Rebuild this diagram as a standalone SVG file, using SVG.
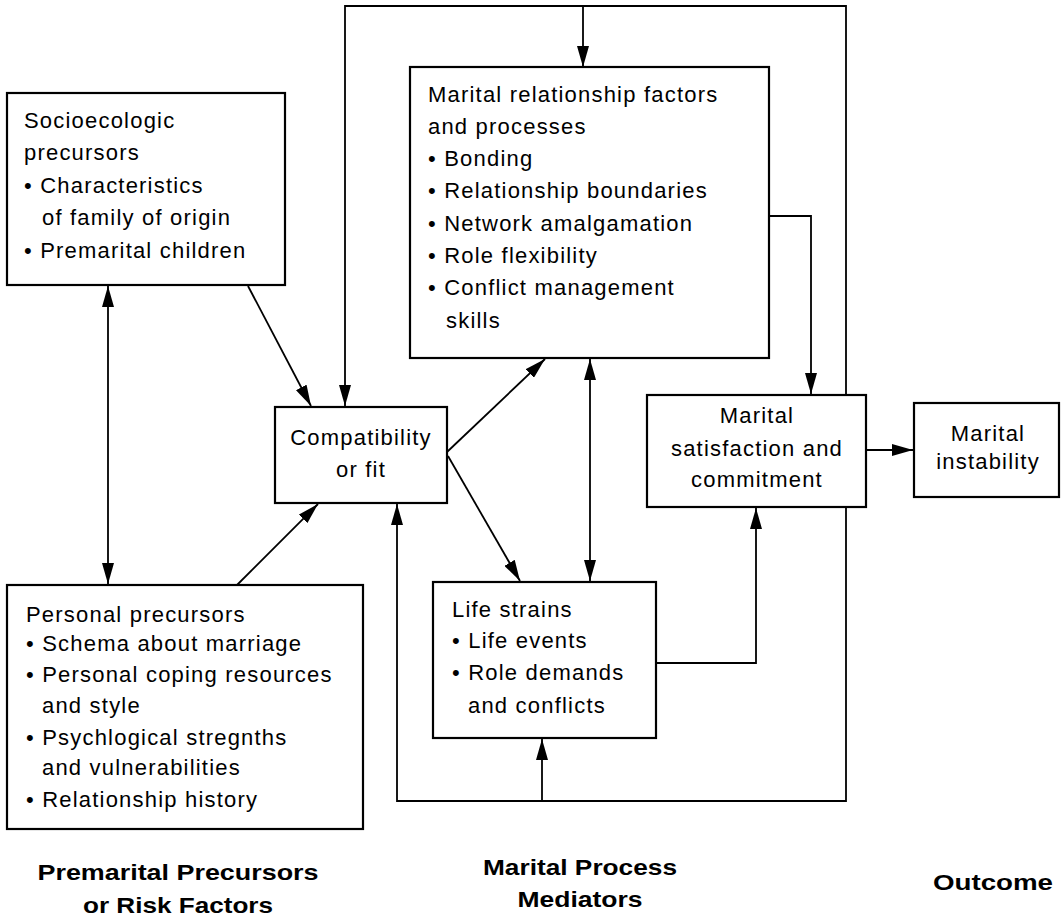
<svg xmlns="http://www.w3.org/2000/svg" width="1063" height="916" viewBox="0 0 1063 916">
<style>
.box{fill:#fff;stroke:#000;stroke-width:2.2}
.t{font-family:"Liberation Sans",Arial,sans-serif;font-size:22px;letter-spacing:1.2px;fill:#000}
.c{text-anchor:middle}
.b{font-family:"Liberation Sans",Arial,sans-serif;font-size:22px;font-weight:bold;fill:#000;text-anchor:middle}
.ln{fill:none;stroke:#000;stroke-width:1.8}
.ar{marker-end:url(#ah)}
.bi{marker-start:url(#ah);marker-end:url(#ah)}
</style>
<defs>
<marker id="ah" viewBox="0 0 21 12" refX="21" refY="6" markerWidth="21" markerHeight="12" markerUnits="userSpaceOnUse" orient="auto-start-reverse">
<path d="M0,0 L21,6 L0,12 z" fill="#000"/>
</marker>
</defs>
<rect width="1063" height="916" fill="#fff"/>
<g id="connectors">
<polyline class="ln" points="846,395 846,6 345,6 345,406" marker-end="url(#ah)"/>
<line class="ln ar" x1="583" y1="6" x2="583" y2="67"/>
<line class="ln ar" x1="248" y1="286" x2="311" y2="406"/>
<line class="ln bi" x1="108" y1="286" x2="108" y2="584"/>
<line class="ln ar" x1="237" y1="585" x2="318" y2="504"/>
<line class="ln ar" x1="447" y1="452" x2="545" y2="359"/>
<line class="ln ar" x1="448" y1="456" x2="520" y2="581"/>
<line class="ln bi" x1="590" y1="359" x2="590" y2="581"/>
<polyline class="ln ar" points="769,216 811,216 811,394"/>
<polyline class="ln ar" points="656,663 756,663 756,508"/>
<line class="ln ar" x1="866" y1="450" x2="913" y2="450"/>
<polyline class="ln ar" points="846,507 846,801 397,801 397,504"/>
<line class="ln ar" x1="542" y1="801" x2="542" y2="739"/>
</g>
<g id="socioecologic">
<rect class="box" x="7" y="93" width="278" height="192"/>
<text class="t" x="24" y="128">Socioecologic</text>
<text class="t" x="24" y="160">precursors</text>
<text class="t" x="24" y="193">• Characteristics</text>
<text class="t" x="42" y="225">of family of origin</text>
<text class="t" x="24" y="258">• Premarital children</text>
</g>
<g id="personal">
<rect class="box" x="7" y="585" width="356" height="244"/>
<text class="t" x="26" y="622">Personal precursors</text>
<text class="t" x="26" y="651">• Schema about marriage</text>
<text class="t" x="26" y="682">• Personal coping resources</text>
<text class="t" x="42" y="713">and style</text>
<text class="t" x="26" y="745">• Psychlogical stregnths</text>
<text class="t" x="42" y="775">and vulnerabilities</text>
<text class="t" x="26" y="807">• Relationship history</text>
</g>
<g id="compatibility">
<rect class="box" x="275" y="407" width="172" height="96"/>
<text class="t c" x="361" y="445">Compatibility</text>
<text class="t c" x="361" y="477">or fit</text>
</g>
<g id="marital-relationship">
<rect class="box" x="410" y="67" width="359" height="291"/>
<text class="t" x="428" y="102">Marital relationship factors</text>
<text class="t" x="428" y="134">and processes</text>
<text class="t" x="428" y="166">• Bonding</text>
<text class="t" x="428" y="198">• Relationship boundaries</text>
<text class="t" x="428" y="231">• Network amalgamation</text>
<text class="t" x="428" y="263">• Role flexibility</text>
<text class="t" x="428" y="295">• Conflict management</text>
<text class="t" x="446" y="328">skills</text>
</g>
<g id="life-strains">
<rect class="box" x="433" y="582" width="223" height="156"/>
<text class="t" x="452" y="617">Life strains</text>
<text class="t" x="452" y="648">• Life events</text>
<text class="t" x="452" y="680">• Role demands</text>
<text class="t" x="468" y="713">and conflicts</text>
</g>
<g id="satisfaction">
<rect class="box" x="647" y="395" width="219" height="112"/>
<text class="t c" x="757" y="423">Marital</text>
<text class="t c" x="757" y="456">satisfaction and</text>
<text class="t c" x="757" y="487">commitment</text>
</g>
<g id="instability">
<rect class="box" x="914" y="403" width="145" height="94"/>
<text class="t c" x="988" y="441">Marital</text>
<text class="t c" x="988" y="469">instability</text>
</g>
<g id="labels">
<text class="b" x="178" y="880" textLength="281" lengthAdjust="spacingAndGlyphs">Premarital Precursors</text>
<text class="b" x="178" y="913" textLength="190" lengthAdjust="spacingAndGlyphs">or Risk Factors</text>
<text class="b" x="580" y="875" textLength="194" lengthAdjust="spacingAndGlyphs">Marital Process</text>
<text class="b" x="580" y="907" textLength="125" lengthAdjust="spacingAndGlyphs">Mediators</text>
<text class="b" x="993" y="890" textLength="120" lengthAdjust="spacingAndGlyphs">Outcome</text>
</g>
</svg>
